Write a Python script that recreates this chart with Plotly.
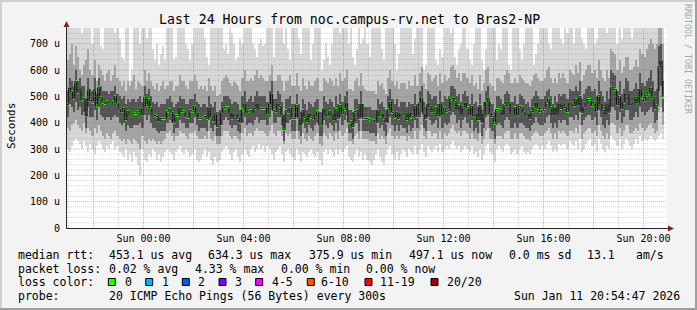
import plotly.graph_objects as go
import pandas as pd

# ---------------- data ----------------
median = [
    469,532,518,493,557,516,525,488,493,426,525,484,478,525,465,533,495,478,474,480,475,475,480,500,475,452,442,455,412,442,433,433,436,436,442,452,430,497,465,488,457,433,427,424,407,417,417,417,
    442,450,440,402,427,427,455,442,442,424,421,446,442,462,437,417,417,419,424,417,455,421,409,430,386,392,437,455,457,457,437,417,433,433,417,402,450,471,437,442,446,437,455,471,452,455,455,
    455,433,471,509,446,442,471,462,430,374,446,440,455,417,417,465,417,392,446,421,404,433,421,415,430,442,392,392,452,433,427,442,433,411,450,417,465,433,450,475,402,404,386,442,446,417,471,417,
    417,415,412,410,409,401,446,427,433,417,402,450,478,440,421,440,417,433,430,430,412,437,421,424,462,424,475,493,433,417,471,462,442,452,457,427,471,430,455,442,446,488,493,480,452,465,433,462,
    475,457,430,462,427,433,412,465,402,433,480,493,433,424,397,450,450,446,430,465,478,471,433,433,457,430,462,457,440,430,433,417,442,457,475,455,442,446,455,478,488,457,430,457,433,471,455,468,
    457,442,475,471,465,488,468,500,440,462,475,488,488,465,478,446,503,471,446,433,468,440,533,528,526,468,500,455,478,509,506,468,471,475,497,475,528,497,484,503,512,531,497,455,465,614,635,497,
]
smoke_max = [
    760,760,760,760,760,760,760,740,760,760,760,760,700,760,760,760,690,680,760,760,760,760,760,740,760,720,650,640,760,760,560,600,760,760,760,700,760,760,720,760,760,680,640,700,620,660,690,640,
    760,760,760,640,650,760,760,760,760,700,680,640,700,760,760,760,760,760,720,650,620,760,760,760,760,760,760,680,700,660,760,740,700,640,650,720,700,760,760,760,760,700,680,650,700,720,690,
    700,760,760,760,650,760,760,760,760,700,760,680,640,760,760,760,720,660,760,760,760,760,640,700,760,760,760,600,640,700,650,620,700,760,760,760,740,760,760,760,700,760,650,620,680,760,700,720,
    760,700,650,760,760,760,760,760,680,640,760,760,760,760,700,600,660,760,760,760,760,760,760,660,720,760,760,760,600,620,760,760,760,760,640,620,680,650,760,760,760,740,760,650,620,680,700,760,
    760,680,640,620,700,760,760,760,640,600,680,760,760,760,760,640,700,680,760,760,760,620,600,760,760,760,680,640,700,760,760,760,760,620,660,700,760,760,760,760,700,680,760,760,760,760,720,700,
    760,740,760,760,700,760,760,760,720,700,680,760,760,760,700,720,760,760,760,760,740,760,760,760,760,700,760,720,760,760,760,760,720,760,760,760,760,760,760,760,760,760,760,760,760,760,760,760,
]
smoke_min = [
    300,290,310,330,340,330,320,300,330,310,290,320,300,280,310,330,320,300,290,310,300,320,330,300,310,290,280,270,300,260,280,250,290,270,240,200,300,260,250,280,270,300,290,260,280,250,270,290,
    300,290,280,260,290,300,310,290,280,300,290,270,280,300,260,250,260,280,300,270,290,260,240,270,250,260,290,300,310,300,280,260,290,300,270,250,280,300,280,270,300,310,290,300,320,300,310,
    290,310,300,280,260,290,300,310,280,250,290,300,280,270,260,300,280,250,290,280,270,290,300,280,270,290,260,240,290,300,280,300,290,270,300,280,300,290,300,310,270,260,250,280,300,270,290,260,
    280,260,250,240,260,280,300,270,250,240,280,300,310,280,260,290,260,280,300,290,270,300,290,280,310,280,300,320,290,270,310,300,290,300,310,290,320,290,300,310,300,320,330,310,300,310,290,300,
    310,300,290,310,280,290,270,300,260,280,310,320,290,280,250,300,310,300,290,310,320,310,280,290,300,280,300,310,290,280,290,280,300,310,320,310,300,310,300,320,330,310,290,300,290,320,310,320,
    320,300,330,320,310,330,300,340,290,300,320,330,340,310,320,290,340,320,300,290,310,300,350,340,330,310,340,300,320,340,330,310,300,320,340,320,350,330,340,330,340,350,340,330,340,350,360,340,
]
mid_high = [
    640,660,700,620,690,650,600,580,620,640,680,600,580,640,560,620,600,580,560,590,600,560,580,620,570,560,540,560,520,560,540,560,580,530,560,550,540,600,560,590,560,540,530,550,520,540,560,530,
    540,560,560,520,540,540,580,560,560,540,530,560,560,580,560,530,540,530,540,520,570,540,520,540,500,510,560,570,580,570,550,540,560,550,540,520,570,600,560,560,570,560,580,600,570,580,570,
    560,560,580,620,560,560,580,580,560,520,560,560,580,540,540,590,540,520,570,540,530,560,540,540,560,570,520,520,570,560,550,570,560,540,570,540,590,560,570,600,530,530,520,560,570,540,590,540,
    530,520,520,520,520,510,560,540,550,530,510,570,600,560,540,560,530,550,550,550,530,560,540,540,580,540,590,610,550,530,590,580,560,570,580,540,590,550,580,560,570,610,620,600,570,590,560,590,
    590,570,550,580,540,550,530,580,520,550,600,610,550,540,520,570,570,560,550,580,600,590,550,550,570,550,580,570,560,550,550,540,560,580,590,570,560,560,570,600,610,570,550,570,550,590,570,590,
    570,550,600,590,580,620,590,630,560,580,600,620,620,590,600,570,640,600,570,560,600,570,680,670,660,600,640,590,610,650,650,600,600,610,640,610,680,660,650,680,700,720,700,680,700,760,760,700,
]
mid_low = [
    380,370,390,400,410,390,380,370,400,360,380,370,350,380,360,390,370,350,340,360,350,340,360,370,350,340,330,340,320,340,330,320,340,330,320,300,350,330,320,340,330,340,330,320,330,320,330,340,
    360,370,350,330,350,350,370,360,360,350,340,360,360,370,350,340,340,340,350,340,370,340,330,350,320,320,350,370,370,370,350,340,350,350,340,330,360,380,350,360,360,350,370,380,370,370,370,
    360,350,370,390,360,350,370,370,350,320,360,350,360,340,340,370,340,320,360,340,330,350,340,330,350,360,320,310,360,350,340,360,350,330,360,340,370,350,360,380,330,330,320,350,360,340,370,340,
    340,340,330,330,330,320,360,340,350,340,320,360,380,350,340,350,340,350,350,350,330,350,340,340,370,340,370,390,350,340,370,370,350,360,360,340,370,340,360,350,360,380,390,370,360,370,350,370,
    370,360,340,360,340,340,330,360,320,340,370,380,340,340,320,350,350,350,340,360,370,370,340,340,360,340,360,360,350,340,340,330,350,360,370,360,350,350,360,370,380,360,340,360,340,370,360,370,
    360,350,370,370,360,380,360,390,340,360,370,380,380,360,370,350,390,370,350,340,360,340,400,400,390,360,380,350,370,390,390,360,360,370,380,370,400,380,370,380,390,400,380,360,370,440,460,390,
]
core_high = [
    520,570,560,540,600,560,570,540,540,490,570,530,520,570,510,570,540,520,520,520,510,520,520,540,510,500,490,500,470,490,480,490,490,480,490,500,480,540,510,530,500,480,470,480,460,470,470,470,
    490,500,480,460,470,480,500,490,490,470,470,490,490,510,480,470,460,470,470,460,500,470,460,480,440,450,480,500,500,500,490,470,480,480,470,450,500,520,480,490,500,480,500,520,500,500,500,
    500,480,520,560,490,490,520,510,480,430,490,490,500,470,470,510,470,440,490,470,450,480,470,460,480,490,440,440,500,480,470,490,480,460,500,470,510,480,500,520,450,450,440,490,490,470,520,470,
    460,460,460,450,450,450,490,470,480,460,450,500,530,490,470,490,460,480,480,480,460,480,470,470,510,470,520,540,480,460,520,510,490,500,500,470,520,480,500,490,500,540,540,530,500,510,480,510,
    520,500,470,510,470,480,460,510,450,480,520,540,480,470,440,500,500,490,470,510,520,510,480,480,500,470,510,500,490,470,480,460,490,500,520,500,490,490,500,520,530,500,470,500,480,510,500,510,
    510,490,530,520,520,540,520,560,490,510,530,540,540,520,530,500,560,520,500,480,520,490,600,590,580,520,560,510,530,570,560,520,520,530,550,530,590,550,540,560,570,600,560,520,530,690,700,560,
]
core_low = [
    420,470,460,440,480,450,460,430,440,380,460,420,420,450,410,460,430,420,410,420,420,410,420,430,420,400,390,400,370,390,380,380,390,390,390,400,380,430,410,430,400,380,380,370,360,370,370,370,
    400,410,400,360,380,380,410,400,400,380,380,400,400,420,390,370,380,380,380,370,410,380,370,390,350,350,390,410,420,410,390,380,390,390,370,360,400,420,390,400,400,390,410,420,400,410,410,
    410,390,420,450,400,400,420,420,390,330,400,400,410,370,370,420,370,350,400,380,360,390,380,370,390,400,350,350,410,390,380,400,390,370,400,370,420,390,410,430,360,360,340,400,400,370,420,370,
    370,370,360,360,360,350,400,380,390,370,350,400,420,390,370,390,370,390,380,380,360,390,370,380,410,380,420,440,380,370,420,410,390,400,410,380,420,380,400,390,400,430,440,430,400,410,380,410,
    420,400,380,410,370,380,360,410,350,380,420,430,380,370,340,390,400,390,380,410,420,410,380,380,400,380,400,400,390,380,380,370,390,400,420,400,390,390,400,420,430,400,380,400,380,410,400,410,
    410,390,420,420,410,430,410,440,390,410,420,430,430,410,420,390,450,420,390,380,410,390,460,460,450,410,440,400,420,450,450,410,410,420,440,420,460,440,430,440,450,460,440,400,410,520,540,440,
]
loss_steps = [271]      # step index with packet loss
loss_counts = [1]       # lost pings at that step

legend_labels = ['0', '1', '2', '3', '4-5', '6-10', '11-19', '20/20']
legend_colors = ['#26ff00', '#00b8ff', '#0059ff', '#7e00ff', '#ff00ff', '#ff5500', '#ff0000', '#a10000']

x_tick_times = ['2026-01-11 00:00', '2026-01-11 04:00', '2026-01-11 08:00',
                '2026-01-11 12:00', '2026-01-11 16:00', '2026-01-11 20:00']
x_tick_labels = ['Sun 00:00', 'Sun 04:00', 'Sun 08:00', 'Sun 12:00', 'Sun 16:00', 'Sun 20:00']
y_tick_vals = [0, 100, 200, 300, 400, 500, 600, 700]
y_tick_labels = ['0', '100 u', '200 u', '300 u', '400 u', '500 u', '600 u', '700 u']

title_text = 'Last 24 Hours from noc.campus-rv.net to Bras2-NP'
stats_rows = [
    [(16.7, 'median rtt:'), (107.7, '453.1 us avg'), (207.3, '634.3 us max'), (308.3, '375.9 us min'),
     (408.3, '497.1 us now'), (507.7, '0.0 ms sd'), (586.0, '13.1'), (635.0, 'am/s')],
    [(16.7, 'packet loss:'), (107.7, '0.02 % avg'), (194.0, '4.33 % max'), (280.0, '0.00 % min'),
     (365.0, '0.00 % now')],
    [(16.7, 'loss color:')],
    [(16.7, 'probe:'), (107.7, '20 ICMP Echo Pings (56 Bytes) every 300s'), (513.3, 'Sun Jan 11 20:54:47 2026')],
]

# ---------------- geometry ----------------
W, H = 697, 310
PL, PR, PT, PB = 67, 667, 28, 228
FONT = 'DejaVu Sans Mono'


def px(x):
    return (x - PL) / (PR - PL)


def py(y):
    return (PB - y) / (PB - PT)


n = len(median)
t = pd.date_range('2026-01-10 20:55', periods=n, freq='5min')
STEP_MS = 300000

loss = [0] * n
for i, c in zip(loss_steps, loss_counts):
    loss[i] = c


def loss_color(c):
    if c <= 3:
        return legend_colors[c]
    if c <= 5:
        return legend_colors[4]
    if c <= 10:
        return legend_colors[5]
    if c <= 19:
        return legend_colors[6]
    return legend_colors[7]


def band(lower, upper, color):
    return go.Bar(x=t, y=[u - l for u, l in zip(upper, lower)], base=lower,
                  width=STEP_MS, offset=0,
                  marker=dict(color=color, line=dict(width=0)),
                  hoverinfo='skip', showlegend=False)


fig = go.Figure()
fig.add_trace(band(smoke_min, smoke_max, '#d8d8d8'))
fig.add_trace(band(mid_low, mid_high, '#a4a4a4'))
fig.add_trace(band(core_low, core_high, '#545454'))
fig.add_trace(go.Scatter(x=t, y=median, mode='lines',
                         line=dict(shape='hv', color='#111111', width=1),
                         hoverinfo='skip', showlegend=False))
MARK = 10
fig.add_trace(go.Bar(x=t, y=[MARK] * n, base=[m - MARK / 2 for m in median],
                     width=STEP_MS, offset=0,
                     marker=dict(color=[loss_color(c) for c in loss], line=dict(width=0)),
                     hoverinfo='skip', showlegend=False))

shapes = []
# grid drawn above the data, as rrdtool does
for h in pd.date_range('2026-01-10 21:00', '2026-01-11 20:00', freq='1h'):
    major = h.hour % 2 == 0
    shapes.append(dict(type='line', xref='x', yref='paper',
                       x0=h.strftime('%Y-%m-%d %H:%M'), x1=h.strftime('%Y-%m-%d %H:%M'),
                       y0=0, y1=1, layer='above',
                       line=dict(color='rgba(222,80,80,0.5)' if major else 'rgba(140,140,140,0.35)',
                                 width=1, dash='1px,1px')))
for v in range(20, 760, 20):
    major = v % 100 == 0
    shapes.append(dict(type='line', xref='paper', yref='y', x0=0, x1=1, y0=v, y1=v, layer='above',
                       line=dict(color='rgba(222,80,80,0.5)' if major else 'rgba(140,140,140,0.35)',
                                 width=1, dash='1px,1px')))

# axes with arrows
AX = '#262626'
shapes.append(dict(type='line', xref='paper', yref='paper', x0=px(66.5), x1=px(66.5), y0=py(228), y1=py(24),
                   layer='above', line=dict(color=AX, width=1)))
shapes.append(dict(type='line', xref='paper', yref='paper', x0=px(66), x1=px(669), y0=py(228.5), y1=py(228.5),
                   layer='above', line=dict(color=AX, width=1)))
ARROW = '#8a1f1f'
shapes.append(dict(type='path', xref='paper', yref='paper', layer='above',
                   path=f'M {px(63.5)},{py(27)} L {px(69.5)},{py(27)} L {px(66.5)},{py(21)} Z',
                   fillcolor=ARROW, line=dict(color=ARROW, width=0)))
shapes.append(dict(type='path', xref='paper', yref='paper', layer='above',
                   path=f'M {px(668)},{py(225.5)} L {px(668)},{py(231.5)} L {px(674)},{py(228.5)} Z',
                   fillcolor=ARROW, line=dict(color=ARROW, width=0)))

# outer 3D frame
shapes.append(dict(type='line', xref='paper', yref='paper', x0=px(0), x1=px(W), y0=py(1), y1=py(1),
                   line=dict(color='#cfcfcf', width=2)))
shapes.append(dict(type='line', xref='paper', yref='paper', x0=px(1), x1=px(1), y0=py(0), y1=py(H),
                   line=dict(color='#cfcfcf', width=2)))
shapes.append(dict(type='line', xref='paper', yref='paper', x0=px(W - 1), x1=px(W - 1), y0=py(0), y1=py(H),
                   line=dict(color='#9e9e9e', width=2)))
shapes.append(dict(type='line', xref='paper', yref='paper', x0=px(0), x1=px(W), y0=py(H - 1), y1=py(H - 1),
                   line=dict(color='#9e9e9e', width=2)))

# loss colour swatches
swatch_x = [108.3, 145.7, 182.3, 219.0, 255.7, 307.3, 365.0, 431.0]
label_x = [124.0, 161.0, 197.3, 234.3, 271.0, 320.0, 379.3, 445.7]
for sx, col in zip(swatch_x, legend_colors):
    shapes.append(dict(type='rect', xref='paper', yref='paper',
                       x0=px(sx), x1=px(sx + 7), y0=py(278.5), y1=py(285.5),
                       fillcolor=col, line=dict(color='#000000', width=1)))

annotations = []


def ann(x, y, text, size, xanchor='left', color='#000000', angle=0):
    annotations.append(dict(x=px(x), y=py(y), xref='paper', yref='paper', text=text,
                            showarrow=False, xanchor=xanchor, yanchor='middle',
                            textangle=angle, borderpad=0,
                            font=dict(family=FONT, size=size, color=color)))


ann(349.5, 19.5, title_text, 13.2, xanchor='center')
ann(11, 126, 'Seconds', 11, xanchor='center', angle=-90)
ann(688, 59, 'RRDTOOL / TOBI OETIKER', 8.3, xanchor='center', color='#a8a8a8', angle=90)
row_y = [255, 268.5, 282.3, 296]
for ry, row in zip(row_y, stats_rows):
    for x, txt in row:
        ann(x, ry, txt, 11.5)
for lx, lab in zip(label_x, legend_labels):
    ann(lx, 282.3, lab, 11.5)

fig.update_layout(
    width=W, height=H,
    margin=dict(l=PL, r=W - PR, t=PT, b=H - PB, pad=0),
    paper_bgcolor='#f3f3f3', plot_bgcolor='#ffffff',
    barmode='overlay', bargap=0, showlegend=False,
    shapes=shapes, annotations=annotations,
    xaxis=dict(type='date', range=['2026-01-10 20:56:24', '2026-01-11 20:56:24'],
               tickmode='array', tickvals=x_tick_times, ticktext=x_tick_labels,
               showgrid=False, zeroline=False, showline=False, ticks='',
               ticklabelstandoff=3,
               tickfont=dict(family=FONT, size=10, color='#000000')),
    yaxis=dict(range=[0, 760], tickmode='array', tickvals=y_tick_vals, ticktext=y_tick_labels,
               showgrid=False, zeroline=False, showline=False, ticks='',
               ticklabelstandoff=6,
               tickfont=dict(family=FONT, size=10, color='#000000')),
)

fig.write_html('out.html')
